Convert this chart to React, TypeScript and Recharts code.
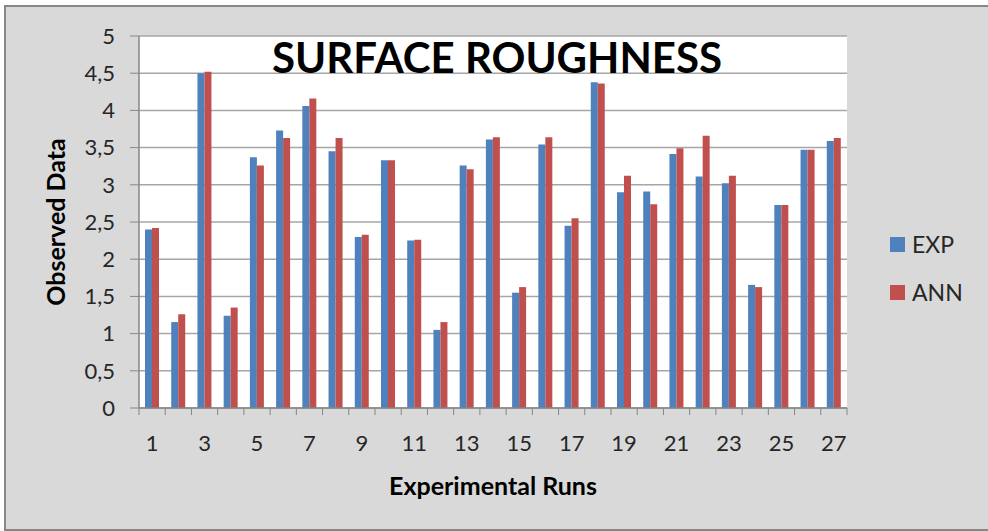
import React from 'react';
import { BarChart, Bar, XAxis, YAxis, CartesianGrid } from 'recharts';

const runs = [1,2,3,4,5,6,7,8,9,10,11,12,13,14,15,16,17,18,19,20,21,22,23,24,25,26,27];
const expValues = [2.40,1.155,4.50,1.24,3.37,3.73,4.06,3.45,2.30,3.33,2.25,1.05,3.26,3.61,1.55,3.54,2.45,4.38,2.90,2.91,3.415,3.11,3.02,1.655,2.73,3.47,3.59];
const annValues = [2.42,1.26,4.52,1.35,3.26,3.63,4.16,3.63,2.33,3.33,2.26,1.155,3.21,3.64,1.625,3.64,2.55,4.36,3.12,2.74,3.49,3.66,3.12,1.625,2.73,3.47,3.63];
const yTicks = [0,0.5,1,1.5,2,2.5,3,3.5,4,4.5,5];

const data = runs.map((r, i) => ({ run: r, EXP: expValues[i], ANN: annValues[i] }));

const FONT = 'Lato, "Open Sans", sans-serif';
const W = 988;
const H = 531;
const M = { top: 36, right: 141, bottom: 0, left: 0 };
const XH = 123;
const YW = 139;
const plotW = W - M.right - YW;
const band = plotW / runs.length;

const XTick = (props: any) => {
  const { x, y, payload, index } = props;
  const left = x - band / 2;
  const isLast = index === runs.length - 1;
  return (
    <g>
      <line x1={left} y1={y} x2={left} y2={y + 7} stroke="#868686" strokeWidth={1} />
      {isLast && <line x1={x + band / 2} y1={y} x2={x + band / 2} y2={y + 7} stroke="#868686" strokeWidth={1} />}
      {payload.value % 2 === 1 && (
        <text x={x} y={y + 43} textAnchor="middle" fontSize={22} fontFamily={FONT} fill="#262626">
          {payload.value}
        </text>
      )}
    </g>
  );
};

export default function App() {
  return (
    <div style={{ position: 'absolute', left: 0, top: 0, width: W, height: H, overflow: 'hidden' }}>
      <div style={{ position: 'absolute', left: 4, top: 5, width: 1000, height: 522, background: '#d9d9d9', border: '2px solid #878787' }} />
      <div style={{ position: 'absolute', left: 0, top: 0 }}>
        <BarChart width={W} height={H} data={data} margin={M} barGap={0} barSize={7}>
          <CartesianGrid vertical={false} stroke="#a6a6a6" fill="#ffffff" strokeWidth={1.5} />
          <XAxis
            dataKey="run"
            interval={0}
            tickLine={false}
            tickSize={0}
            tickMargin={0}
            tick={<XTick />}
            axisLine={{ stroke: '#868686', strokeWidth: 1.5 }}
            height={XH}
          />
          <YAxis
            domain={[0, 5]}
            ticks={yTicks}
            width={YW}
            tickSize={9}
            tickMargin={15}
            tickLine={{ stroke: '#868686' }}
            axisLine={{ stroke: '#868686', strokeWidth: 1.5 }}
            tickFormatter={(v: number) => String(v).replace('.', ',')}
            tick={{ fontSize: 22, fontFamily: FONT, fill: '#262626' }}
            interval={0}
          />
          <Bar dataKey="EXP" fill="#4f81bd" isAnimationActive={false} />
          <Bar dataKey="ANN" fill="#c0504d" isAnimationActive={false} />
        </BarChart>
      </div>
      <div style={{ position: 'absolute', left: 272, top: 31, fontFamily: FONT, fontWeight: 700, fontSize: 42, color: '#000', whiteSpace: 'nowrap', lineHeight: '52px' }}>
        SURFACE ROUGHNESS
      </div>
      <div style={{ position: 'absolute', left: 343, top: 470, width: 300, textAlign: 'center', fontFamily: FONT, fontWeight: 700, fontSize: 25, color: '#000', whiteSpace: 'nowrap', lineHeight: '30px' }}>
        Experimental Runs
      </div>
      <div style={{ position: 'absolute', left: 55, top: 222, width: 0, height: 0 }}>
        <div style={{ position: 'absolute', left: -150, top: -15, width: 300, textAlign: 'center', transform: 'rotate(-90deg)', fontFamily: FONT, fontWeight: 700, fontSize: 25, color: '#000', whiteSpace: 'nowrap', lineHeight: '30px' }}>
          Observed Data
        </div>
      </div>
      <div style={{ position: 'absolute', left: 890, top: 237, width: 15, height: 15, background: '#4f81bd' }} />
      <div style={{ position: 'absolute', left: 912, top: 230, fontFamily: FONT, fontSize: 23, color: '#262626', lineHeight: '28px' }}>EXP</div>
      <div style={{ position: 'absolute', left: 890, top: 285, width: 15, height: 15, background: '#c0504d' }} />
      <div style={{ position: 'absolute', left: 912, top: 278, fontFamily: FONT, fontSize: 23, color: '#262626', lineHeight: '28px' }}>ANN</div>
    </div>
  );
}
